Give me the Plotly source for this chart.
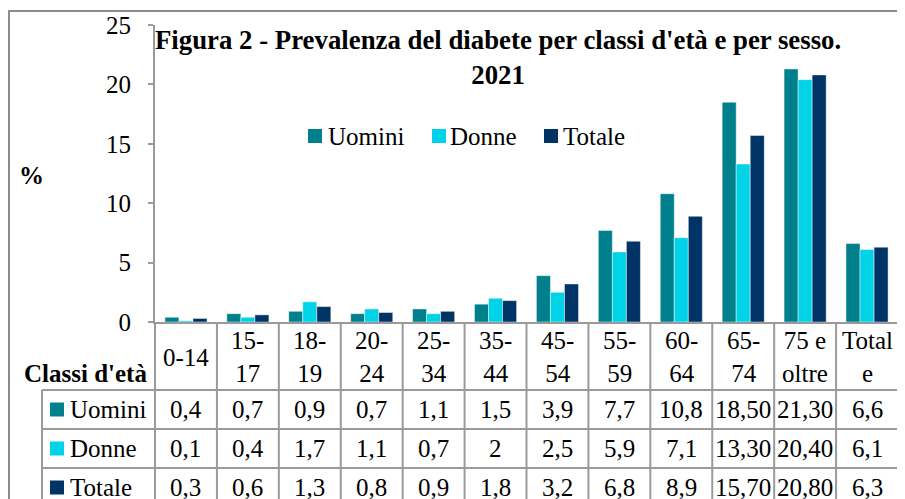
import plotly.graph_objects as go

W, H = 905, 499
OFF = 8  # page body margin offset
FONT = "Liberation Serif"

# ---- data ----
categories = ["0-14", "15-17", "18-19", "20-24", "25-34", "35-44",
              "45-54", "55-59", "60-64", "65-74", "75 e oltre", "Totale"]
header_labels = ["0-14", "15-<br>17", "18-<br>19", "20-<br>24", "25-<br>34", "35-<br>44",
                 "45-<br>54", "55-<br>59", "60-<br>64", "65-<br>74", "75 e<br>oltre", "Total<br>e"]
uomini_txt = ["0,4", "0,7", "0,9", "0,7", "1,1", "1,5", "3,9", "7,7", "10,8", "18,50", "21,30", "6,6"]
donne_txt = ["0,1", "0,4", "1,7", "1,1", "0,7", "2", "2,5", "5,9", "7,1", "13,30", "20,40", "6,1"]
totale_txt = ["0,3", "0,6", "1,3", "0,8", "0,9", "1,8", "3,2", "6,8", "8,9", "15,70", "20,80", "6,3"]
series_names = ["Uomini", "Donne", "Totale"]
series_txt = [uomini_txt, donne_txt, totale_txt]
colors = ["#00808C", "#00D3E8", "#003366"]
y_ticks = [0, 5, 10, 15, 20, 25]
title_lines = ["Figura 2 - Prevalenza del diabete per classi d'età e per sesso.", "2021"]


def num(s):
    return float(s.replace(",", "."))


def px(x):
    return (x - OFF) / W


def py(y):
    return 1 - (y - OFF) / H


GRID = "#9a9a9a"

fig = go.Figure()
for name, txt, col in zip(series_names, series_txt, colors):
    fig.add_trace(go.Bar(
        x=list(range(len(categories))), y=[num(s) for s in txt], name=name,
        marker=dict(color=col, line=dict(color="rgba(255,255,255,0.45)", width=1)),
        showlegend=False, hoverinfo="skip"))

shapes = []
annotations = []

shapes.append(dict(type="rect", xref="paper", yref="paper",
                   x0=px(9), x1=px(925), y0=py(11), y1=py(530),
                   line=dict(color="#8c8c8c", width=2), fillcolor="rgba(0,0,0,0)", layer="below"))

header_top, header_bot = 322, 390
row_edges = [390, 429, 468, 507]
table_bottom = 530

for i in range(len(categories) + 1):
    shapes.append(dict(type="line", xref="x", yref="paper",
                       x0=i - 0.5, x1=i - 0.5, y0=py(header_top), y1=py(table_bottom),
                       line=dict(color=GRID, width=2)))
shapes.append(dict(type="line", xref="paper", yref="paper",
                   x0=px(42), x1=px(42), y0=py(header_bot), y1=py(table_bottom),
                   line=dict(color=GRID, width=2)))
shapes.append(dict(type="line", xref="paper", yref="paper",
                   x0=px(155), x1=px(155), y0=py(header_top), y1=py(table_bottom),
                   line=dict(color=GRID, width=2)))
for ry in row_edges:
    shapes.append(dict(type="line", xref="paper", yref="paper",
                       x0=px(42), x1=px(898), y0=py(ry), y1=py(ry),
                       line=dict(color=GRID, width=2)))

for i, lab in enumerate(header_labels):
    annotations.append(dict(xref="x", yref="paper", x=i, y=py((header_top + header_bot) / 2 + 1),
                            text=lab, showarrow=False, xanchor="center", yanchor="middle",
                            font=dict(family=FONT, size=25, color="black")))
annotations.append(dict(xref="paper", yref="paper", x=px(149), y=py(373),
                        text="<b>Classi d'età</b>", showarrow=False, xanchor="right",
                        yanchor="middle", font=dict(family=FONT, size=25, color="black")))

for r, (name, txt, col) in enumerate(zip(series_names, series_txt, colors)):
    cy = (row_edges[r] + row_edges[r + 1]) / 2
    shapes.append(dict(type="rect", xref="paper", yref="paper",
                       x0=px(50), x1=px(64), y0=py(cy - 7), y1=py(cy + 7),
                       fillcolor=col, line=dict(width=0)))
    annotations.append(dict(xref="paper", yref="paper", x=px(68), y=py(cy),
                            text=name, showarrow=False, xanchor="left", yanchor="middle",
                            font=dict(family=FONT, size=25, color="black")))
    for i, s in enumerate(txt):
        annotations.append(dict(xref="x", yref="paper", x=i, y=py(cy),
                                text=s, showarrow=False, xanchor="center", yanchor="middle",
                                font=dict(family=FONT, size=25, color="black")))

legend_pos = [(308, 328), (432, 450), (544, 563)]
for (sx, tx), name, col in zip(legend_pos, series_names, colors):
    shapes.append(dict(type="rect", xref="paper", yref="paper",
                       x0=px(sx), x1=px(sx + 14), y0=py(129), y1=py(143),
                       fillcolor=col, line=dict(width=0)))
    annotations.append(dict(xref="paper", yref="paper", x=px(tx - 2), y=py(136),
                            text=name, showarrow=False, xanchor="left", yanchor="middle",
                            font=dict(family=FONT, size=25, color="black")))

annotations.append(dict(xref="paper", yref="paper", x=px(498), y=py(58),
                        text="<br>".join("<b>%s</b>" % t for t in title_lines),
                        showarrow=False, xanchor="center", yanchor="middle",
                        font=dict(family=FONT, size=26.8, color="black")))
annotations.append(dict(xref="paper", yref="paper", x=px(31), y=py(175),
                        text="<b>%</b>", showarrow=False, xanchor="center", yanchor="middle",
                        font=dict(family=FONT, size=25, color="black")))

fig.update_layout(
    width=W, height=H, margin=dict(l=0, r=0, t=0, b=0, autoexpand=False),
    paper_bgcolor="white", plot_bgcolor="white",
    barmode="group", bargap=0.32, bargroupgap=0,
    shapes=shapes, annotations=annotations,
    xaxis=dict(domain=[px(155), px(898)], range=[-0.5, len(categories) - 0.5],
               showticklabels=False, ticks="", showgrid=False, zeroline=False,
               showline=True, linecolor=GRID, linewidth=2, fixedrange=True),
    yaxis=dict(domain=[py(322), py(25)], range=[0, 25], tickvals=y_ticks,
               ticks="outside", ticklen=5, tickcolor=GRID, tickwidth=2,
               showline=True, linecolor=GRID, linewidth=2, showgrid=False, zeroline=False,
               tickfont=dict(family=FONT, size=25, color="black"), ticklabelstandoff=12,
               fixedrange=True),
)

fig.write_html("out.html")
